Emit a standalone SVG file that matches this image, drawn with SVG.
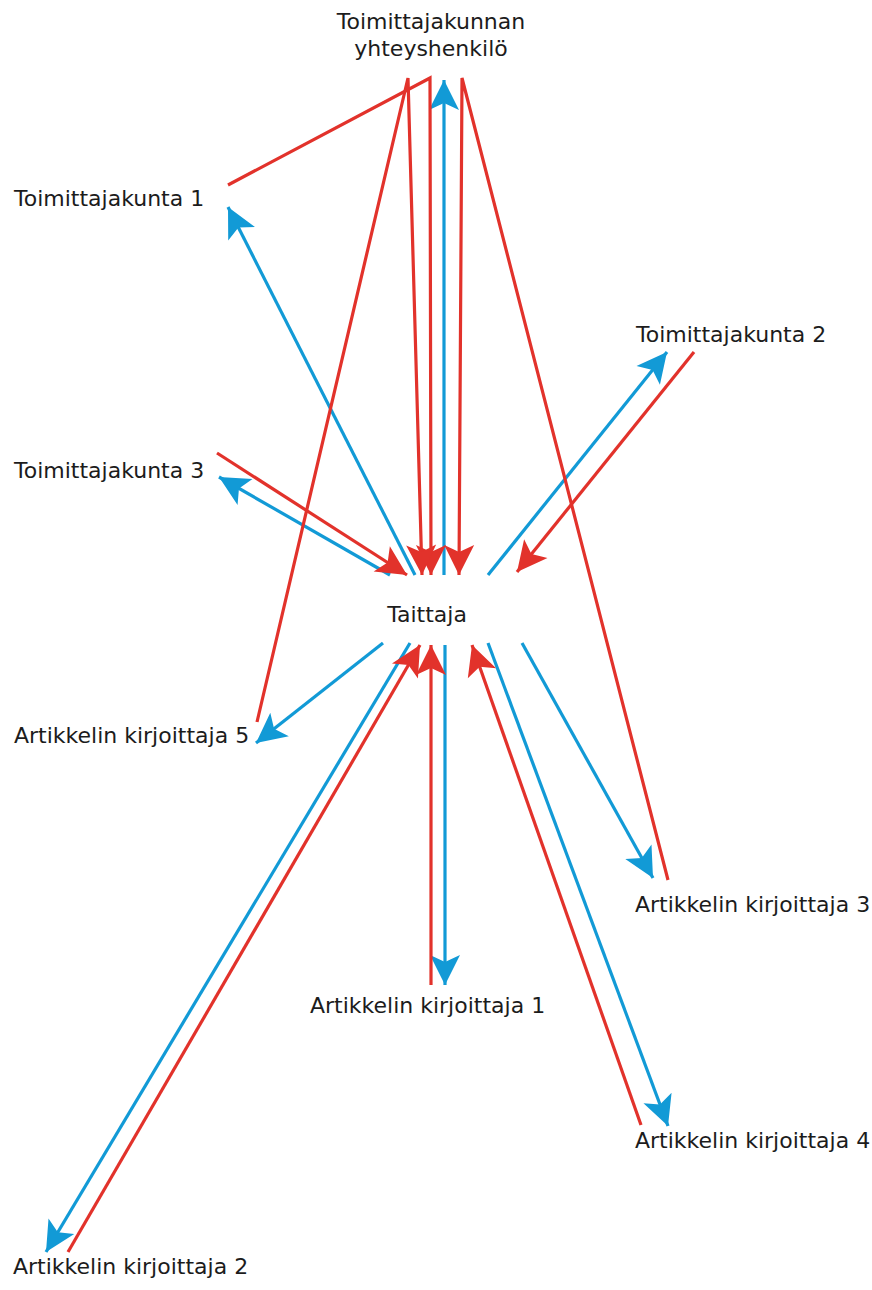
<svg xmlns="http://www.w3.org/2000/svg" width="872" height="1290" viewBox="0 0 872 1290">
  <style>
    .lbl { font-family: "DejaVu Sans", Verdana, sans-serif; font-size: 22px; fill: #1c1c1c; }
    .mid { text-anchor: middle; }
    .blue { fill: none; stroke: #129ad6; stroke-width: 3.2; marker-end: url(#arrowBlue); }
    .red { fill: none; stroke: #e2322b; stroke-width: 3.2; stroke-linejoin: miter; }
    .red.arr { marker-end: url(#arrowRed); }
  </style>
  <defs>
    <marker id="arrowBlue" markerUnits="userSpaceOnUse" markerWidth="32" markerHeight="32" refX="30" refY="15" orient="auto" overflow="visible">
      <path d="M0,0 L30,15 L0,30 L7,15 Z" fill="#129ad6"/>
    </marker>
    <marker id="arrowRed" markerUnits="userSpaceOnUse" markerWidth="32" markerHeight="32" refX="30" refY="15" orient="auto" overflow="visible">
      <path d="M0,0 L30,15 L0,30 L7,15 Z" fill="#e2322b"/>
    </marker>
  </defs>
  <rect width="872" height="1290" fill="#ffffff"/>

  <!-- connectors -->
  <g id="connectors">
    <!-- blue: outgoing from Taittaja -->
    <line class="blue" x1="444" y1="575" x2="444" y2="80"/>
    <line class="blue" x1="415" y1="575" x2="228" y2="207"/>
    <line class="blue" x1="390" y1="575" x2="219" y2="477"/>
    <line class="blue" x1="488" y1="575" x2="667" y2="352"/>
    <line class="blue" x1="383" y1="643" x2="256" y2="743"/>
    <line class="blue" x1="410" y1="643" x2="46" y2="1252"/>
    <line class="blue" x1="445" y1="645" x2="445" y2="985"/>
    <line class="blue" x1="488" y1="643" x2="668" y2="1126"/>
    <line class="blue" x1="522" y1="643" x2="653" y2="878"/>

    <!-- red: incoming to Taittaja, some via the contact person -->
    <polyline class="red arr" points="228,185 430,78 431,575"/>
    <polyline class="red arr" points="257,722 408,78 422,575"/>
    <polyline class="red arr" points="668,880 462,78 459,575"/>
    <line class="red arr" x1="217" y1="453" x2="407" y2="575"/>
    <line class="red arr" x1="694" y1="352" x2="517" y2="572"/>
    <line class="red arr" x1="68" y1="1252" x2="420" y2="645"/>
    <line class="red arr" x1="431" y1="985" x2="431" y2="645"/>
    <line class="red arr" x1="641" y1="1125" x2="472" y2="645"/>
  </g>

  <!-- nodes -->
  <g id="yhteyshenkilo">
    <text class="lbl mid" x="431" y="29">Toimittajakunnan</text>
    <text class="lbl mid" x="431" y="56">yhteyshenkilö</text>
  </g>
  <g id="toimittajakunta1">
    <text class="lbl" x="14" y="206">Toimittajakunta 1</text>
  </g>
  <g id="toimittajakunta2">
    <text class="lbl" x="636" y="342">Toimittajakunta 2</text>
  </g>
  <g id="toimittajakunta3">
    <text class="lbl" x="14" y="478">Toimittajakunta 3</text>
  </g>
  <g id="taittaja">
    <text class="lbl mid" x="427" y="622">Taittaja</text>
  </g>
  <g id="kirjoittaja5">
    <text class="lbl" x="14" y="743">Artikkelin kirjoittaja 5</text>
  </g>
  <g id="kirjoittaja3">
    <text class="lbl" x="635" y="912">Artikkelin kirjoittaja 3</text>
  </g>
  <g id="kirjoittaja1">
    <text class="lbl" x="310" y="1013">Artikkelin kirjoittaja 1</text>
  </g>
  <g id="kirjoittaja4">
    <text class="lbl" x="635" y="1148">Artikkelin kirjoittaja 4</text>
  </g>
  <g id="kirjoittaja2">
    <text class="lbl" x="13" y="1274">Artikkelin kirjoittaja 2</text>
  </g>
</svg>
